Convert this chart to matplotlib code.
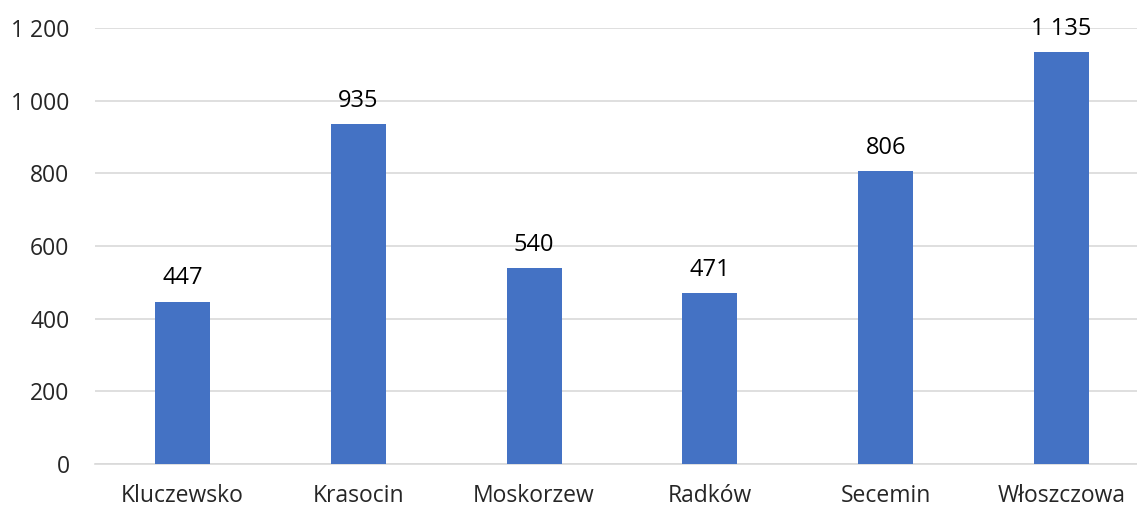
import matplotlib
matplotlib.use("Agg")
import matplotlib.pyplot as plt
from matplotlib.ticker import FuncFormatter

categories = ["Kluczewsko", "Krasocin", "Moskorzew", "Radków", "Secemin", "Włoszczowa"]
values = [447, 935, 540, 471, 806, 1135]
yticks = [0, 200, 400, 600, 800, 1000, 1200]

plt.rcParams['font.family'] = ['Open Sans', 'DejaVu Sans']

W, H = 1137, 508
fig = plt.figure(figsize=(W/100, H/100), dpi=100)
left, right = 94.6, 1149.4
top, bottom = 28, 464
ax = fig.add_axes([left/W, 1 - bottom/H, (right-left)/W, (bottom-top)/H])

def fmt(v):
    return f"{int(v):,}".replace(",", " ")

x = range(len(categories))
bars = ax.bar(x, values, width=0.313, color="#4472C4", zorder=3)
for xi, v in zip(x, values):
    ax.annotate(fmt(v), (xi, v), xytext=(0, 8), textcoords="offset points",
                ha="center", va="bottom", fontsize=17, color="black")

ax.set_ylim(0, 1200)
ax.set_xlim(-0.5, len(categories) - 0.5)
ax.set_yticks(yticks)
ax.yaxis.set_major_formatter(FuncFormatter(lambda v, p: fmt(v)))
ax.set_xticks(list(x))
ax.set_xticklabels(categories)
ax.grid(axis="y", color="#D9D9D9", linewidth=1.2, zorder=0)
for s in ["top", "right", "left"]:
    ax.spines[s].set_visible(False)
ax.spines["bottom"].set_color("#D9D9D9")
ax.spines["bottom"].set_linewidth(1.2)
ax.tick_params(axis="both", length=0, labelsize=16.5, colors="#262626")
ax.tick_params(axis="y", pad=18)
ax.tick_params(axis="x", pad=14.5)

fig.savefig("out.png", dpi=100)
